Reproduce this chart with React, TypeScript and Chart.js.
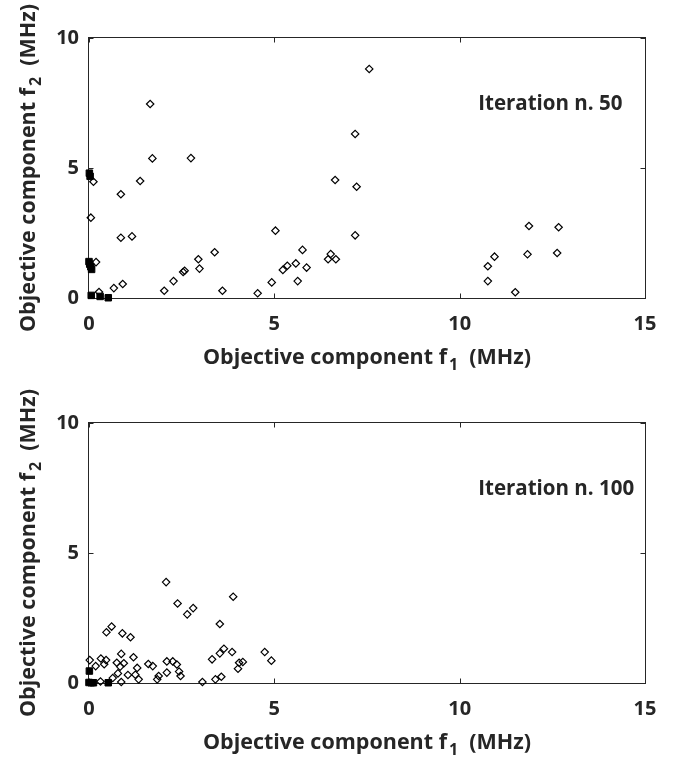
import React, { useEffect, useRef } from 'react';
import { Chart, registerables } from 'chart.js';
Chart.register(...registerables);

// ---------- data ----------
const X_TICKS = [0, 5, 10, 15];
const Y_TICKS = [0, 5, 10];
const X_TITLE = ['Objective component f', '1', '  (MHz)'];
const Y_TITLE = ['Objective component f', '2', '  (MHz)'];
const LABEL_50 = 'Iteration n. 50';
const LABEL_100 = 'Iteration n. 100';

// Iteration 50 - open diamonds
const it50OpenX = [1.65, 1.71, 2.75, 1.38, 0.86, 0.12, 0.05, 0.86, 1.16, 0.19, 2.03, 2.28, 2.54, 2.58, 2.95, 2.98, 3.39, 3.6, 4.55, 4.93, 5.03, 5.23, 5.35, 5.58, 5.63, 5.76, 5.87, 6.45, 6.52, 6.66, 6.64, 0.27, 0.67, 0.91, 7.56, 7.18, 7.22, 7.18, 11.87, 12.67, 10.94, 10.76, 11.83, 12.63, 10.76, 11.5];
const it50OpenY = [7.46, 5.37, 5.38, 4.5, 3.99, 4.47, 3.09, 2.32, 2.37, 1.38, 0.28, 0.65, 1.0, 1.05, 1.49, 1.13, 1.76, 0.28, 0.18, 0.6, 2.59, 1.08, 1.24, 1.33, 0.65, 1.85, 1.17, 1.49, 1.69, 1.49, 4.54, 0.23, 0.38, 0.54, 8.81, 6.31, 4.28, 2.41, 2.77, 2.72, 1.59, 1.22, 1.68, 1.73, 0.65, 0.22];
// Iteration 50 - filled (Pareto) points
const it50FillX = [0.01, 0.03, 0.0, 0.02, 0.05, 0.07, 0.06, 0.3, 0.52];
const it50FillY = [4.8, 4.68, 1.4, 1.3, 1.2, 1.1, 0.1, 0.06, 0.01];

// Iteration 100 - open diamonds
const it100OpenX = [2.08, 3.89, 2.39, 2.65, 2.81, 3.53, 0.47, 0.61, 0.9, 1.12, 0.02, 0.18, 0.32, 0.46, 0.41, 0.75, 0.87, 0.84, 0.94, 1.2, 1.3, 0.78, 0.64, 1.05, 1.25, 1.34, 0.87, 0.31, 1.6, 1.72, 1.84, 1.88, 2.1, 2.1, 2.26, 2.37, 2.43, 2.47, 3.06, 3.32, 3.41, 3.57, 3.53, 3.64, 3.86, 4.02, 4.05, 4.15, 4.74, 4.92];
const it100OpenY = [3.88, 3.32, 3.06, 2.64, 2.88, 2.27, 1.95, 2.17, 1.91, 1.76, 0.88, 0.65, 0.94, 0.88, 0.72, 0.78, 1.12, 0.63, 0.76, 0.99, 0.58, 0.37, 0.19, 0.31, 0.32, 0.14, 0.04, 0.06, 0.73, 0.65, 0.14, 0.27, 0.4, 0.83, 0.83, 0.71, 0.44, 0.27, 0.04, 0.91, 0.14, 0.24, 1.14, 1.32, 1.19, 0.55, 0.78, 0.81, 1.19, 0.86];
// Iteration 100 - filled (Pareto) points
const it100FillX = [0.01, 0.0, 0.06, 0.12, 0.52];
const it100FillY = [0.46, 0.02, 0.01, 0.01, 0.01];

// label anchor in data units
const LABEL_POS_X = [10.5];
const LABEL_POS_Y = [7.45];

// ---------- styles ----------
const INK = '#262626';
const FONT_FAMILY = '"Open Sans", "Noto Sans", sans-serif';
const TICK_FONT = { family: FONT_FAMILY, size: 20, weight: 'bold' as const };
const MAIN_FONT = `bold 21.5px ${FONT_FAMILY}`;
const SUB_FONT = `bold 16px ${FONT_FAMILY}`;
const LABEL_FONT = `bold 20.5px ${FONT_FAMILY}`;

function drawTitle(ctx: CanvasRenderingContext2D, parts: string[], cx: number, cy: number, rotate: boolean) {
  ctx.save();
  ctx.translate(cx, cy);
  if (rotate) ctx.rotate(-Math.PI / 2);
  ctx.fillStyle = INK;
  ctx.textBaseline = 'middle';
  ctx.textAlign = 'left';
  ctx.font = MAIN_FONT;
  const w1 = ctx.measureText(parts[0]).width;
  const w3 = ctx.measureText(parts[2]).width;
  ctx.font = SUB_FONT;
  const w2 = ctx.measureText(parts[1]).width + 2;
  let x = -(w1 + w2 + w3) / 2;
  ctx.font = MAIN_FONT;
  ctx.fillText(parts[0], x, 0);
  x += w1;
  ctx.font = SUB_FONT;
  ctx.fillText(parts[1], x + 2, 7);
  x += w2;
  ctx.font = MAIN_FONT;
  ctx.fillText(parts[2], x, 0);
  ctx.restore();
}

const matlabPlugin = {
  id: 'matlab',
  beforeDatasetsDraw(chart: any) {
    const { ctx, chartArea: a, scales } = chart;
    const xs = scales.x;
    const ys = scales.y;
    ctx.save();
    ctx.strokeStyle = INK;
    ctx.lineWidth = 1;
    const L = Math.round(a.left) - 0.5;
    const R = Math.round(a.right) + 0.5;
    const T = Math.round(a.top) - 0.5;
    const B = Math.round(a.bottom) + 0.5;
    ctx.strokeRect(L, T, R - L, B - T);
    const tl = 5;
    ctx.beginPath();
    X_TICKS.forEach((v) => {
      const px = Math.round(xs.getPixelForValue(v)) + 0.5;
      ctx.moveTo(px, B);
      ctx.lineTo(px, B - tl);
      ctx.moveTo(px, T);
      ctx.lineTo(px, T + tl);
    });
    Y_TICKS.forEach((v) => {
      const py = Math.round(ys.getPixelForValue(v)) + 0.5;
      ctx.moveTo(L, py);
      ctx.lineTo(L + tl, py);
      ctx.moveTo(R, py);
      ctx.lineTo(R - tl, py);
    });
    ctx.stroke();
    ctx.restore();
  },
  afterDraw(chart: any, _args: any, opts: any) {
    const { ctx, chartArea: a, scales } = chart;
    drawTitle(ctx, X_TITLE, (a.left + a.right) / 2, a.bottom + 60, false);
    drawTitle(ctx, Y_TITLE, 29, (a.top + a.bottom) / 2, true);
    ctx.save();
    ctx.fillStyle = INK;
    ctx.font = LABEL_FONT;
    ctx.textAlign = 'left';
    ctx.textBaseline = 'middle';
    ctx.fillText(opts.label, scales.x.getPixelForValue(LABEL_POS_X[0]), scales.y.getPixelForValue(LABEL_POS_Y[0]));
    ctx.restore();
  },
};

type PanelProps = {
  openX: number[];
  openY: number[];
  fillX: number[];
  fillY: number[];
  label: string;
  top: number;
  padTop: number;
  axisH: number;
};

const W = 680;
const H = 380;

function Panel({ openX, openY, fillX, fillY, label, top, padTop, axisH }: PanelProps) {
  const ref = useRef<HTMLCanvasElement>(null);
  useEffect(() => {
    if (!ref.current) return;
    const chart = new Chart(ref.current, {
      type: 'scatter',
      data: {
        datasets: [
          {
            data: openX.map((x, i) => ({ x, y: openY[i] })),
            pointStyle: 'rectRot',
            pointRadius: 3.7,
            pointBorderWidth: 1.2,
            borderColor: '#000',
            backgroundColor: 'rgba(255,255,255,0)',
            clip: false,
          },
          {
            data: fillX.map((x, i) => ({ x, y: fillY[i] })),
            pointStyle: 'rect',
            pointRadius: 4.6,
            pointBorderWidth: 1,
            borderColor: '#000',
            backgroundColor: '#000',
            clip: false,
          },
        ],
      },
      options: {
        responsive: false,
        animation: false,
        events: [],
        layout: { padding: { top: padTop, right: 35, left: 0, bottom: 0 } },
        plugins: {
          legend: { display: false },
          tooltip: { enabled: false },
          matlab: { label },
        } as any,
        scales: {
          x: {
            type: 'linear',
            min: 0,
            max: 15,
            afterBuildTicks: (s: any) => {
              s.ticks = X_TICKS.map((v) => ({ value: v }));
            },
            afterFit: (s: any) => {
              s.height = axisH;
            },
            grid: { display: false, drawTicks: false, tickLength: 0 },
            border: { display: false },
            ticks: { color: INK, font: TICK_FONT, padding: 14, maxRotation: 0, autoSkip: false },
          },
          y: {
            type: 'linear',
            min: 0,
            max: 10,
            afterBuildTicks: (s: any) => {
              s.ticks = Y_TICKS.map((v) => ({ value: v }));
            },
            afterFit: (s: any) => {
              s.width = 89;
            },
            grid: { display: false, drawTicks: false, tickLength: 0 },
            border: { display: false },
            ticks: { color: INK, font: TICK_FONT, padding: 10, autoSkip: false },
          },
        },
      },
      plugins: [matlabPlugin],
    });
    return () => chart.destroy();
  }, []);
  return (
    <div style={{ position: 'absolute', left: 0, top, width: W, height: H }}>
      <canvas ref={ref} width={W} height={H} style={{ width: W, height: H, display: 'block' }} />
    </div>
  );
}

export default function App() {
  return (
    <div style={{ position: 'absolute', left: 0, top: 0, width: 680, height: 760, background: '#fff' }}>
      <Panel openX={it50OpenX} openY={it50OpenY} fillX={it50FillX} fillY={it50FillY} label={LABEL_50} top={0} padTop={38} axisH={H - 298} />
      <Panel openX={it100OpenX} openY={it100OpenY} fillX={it100FillX} fillY={it100FillY} label={LABEL_100} top={380} padTop={43} axisH={H - 303} />
    </div>
  );
}
